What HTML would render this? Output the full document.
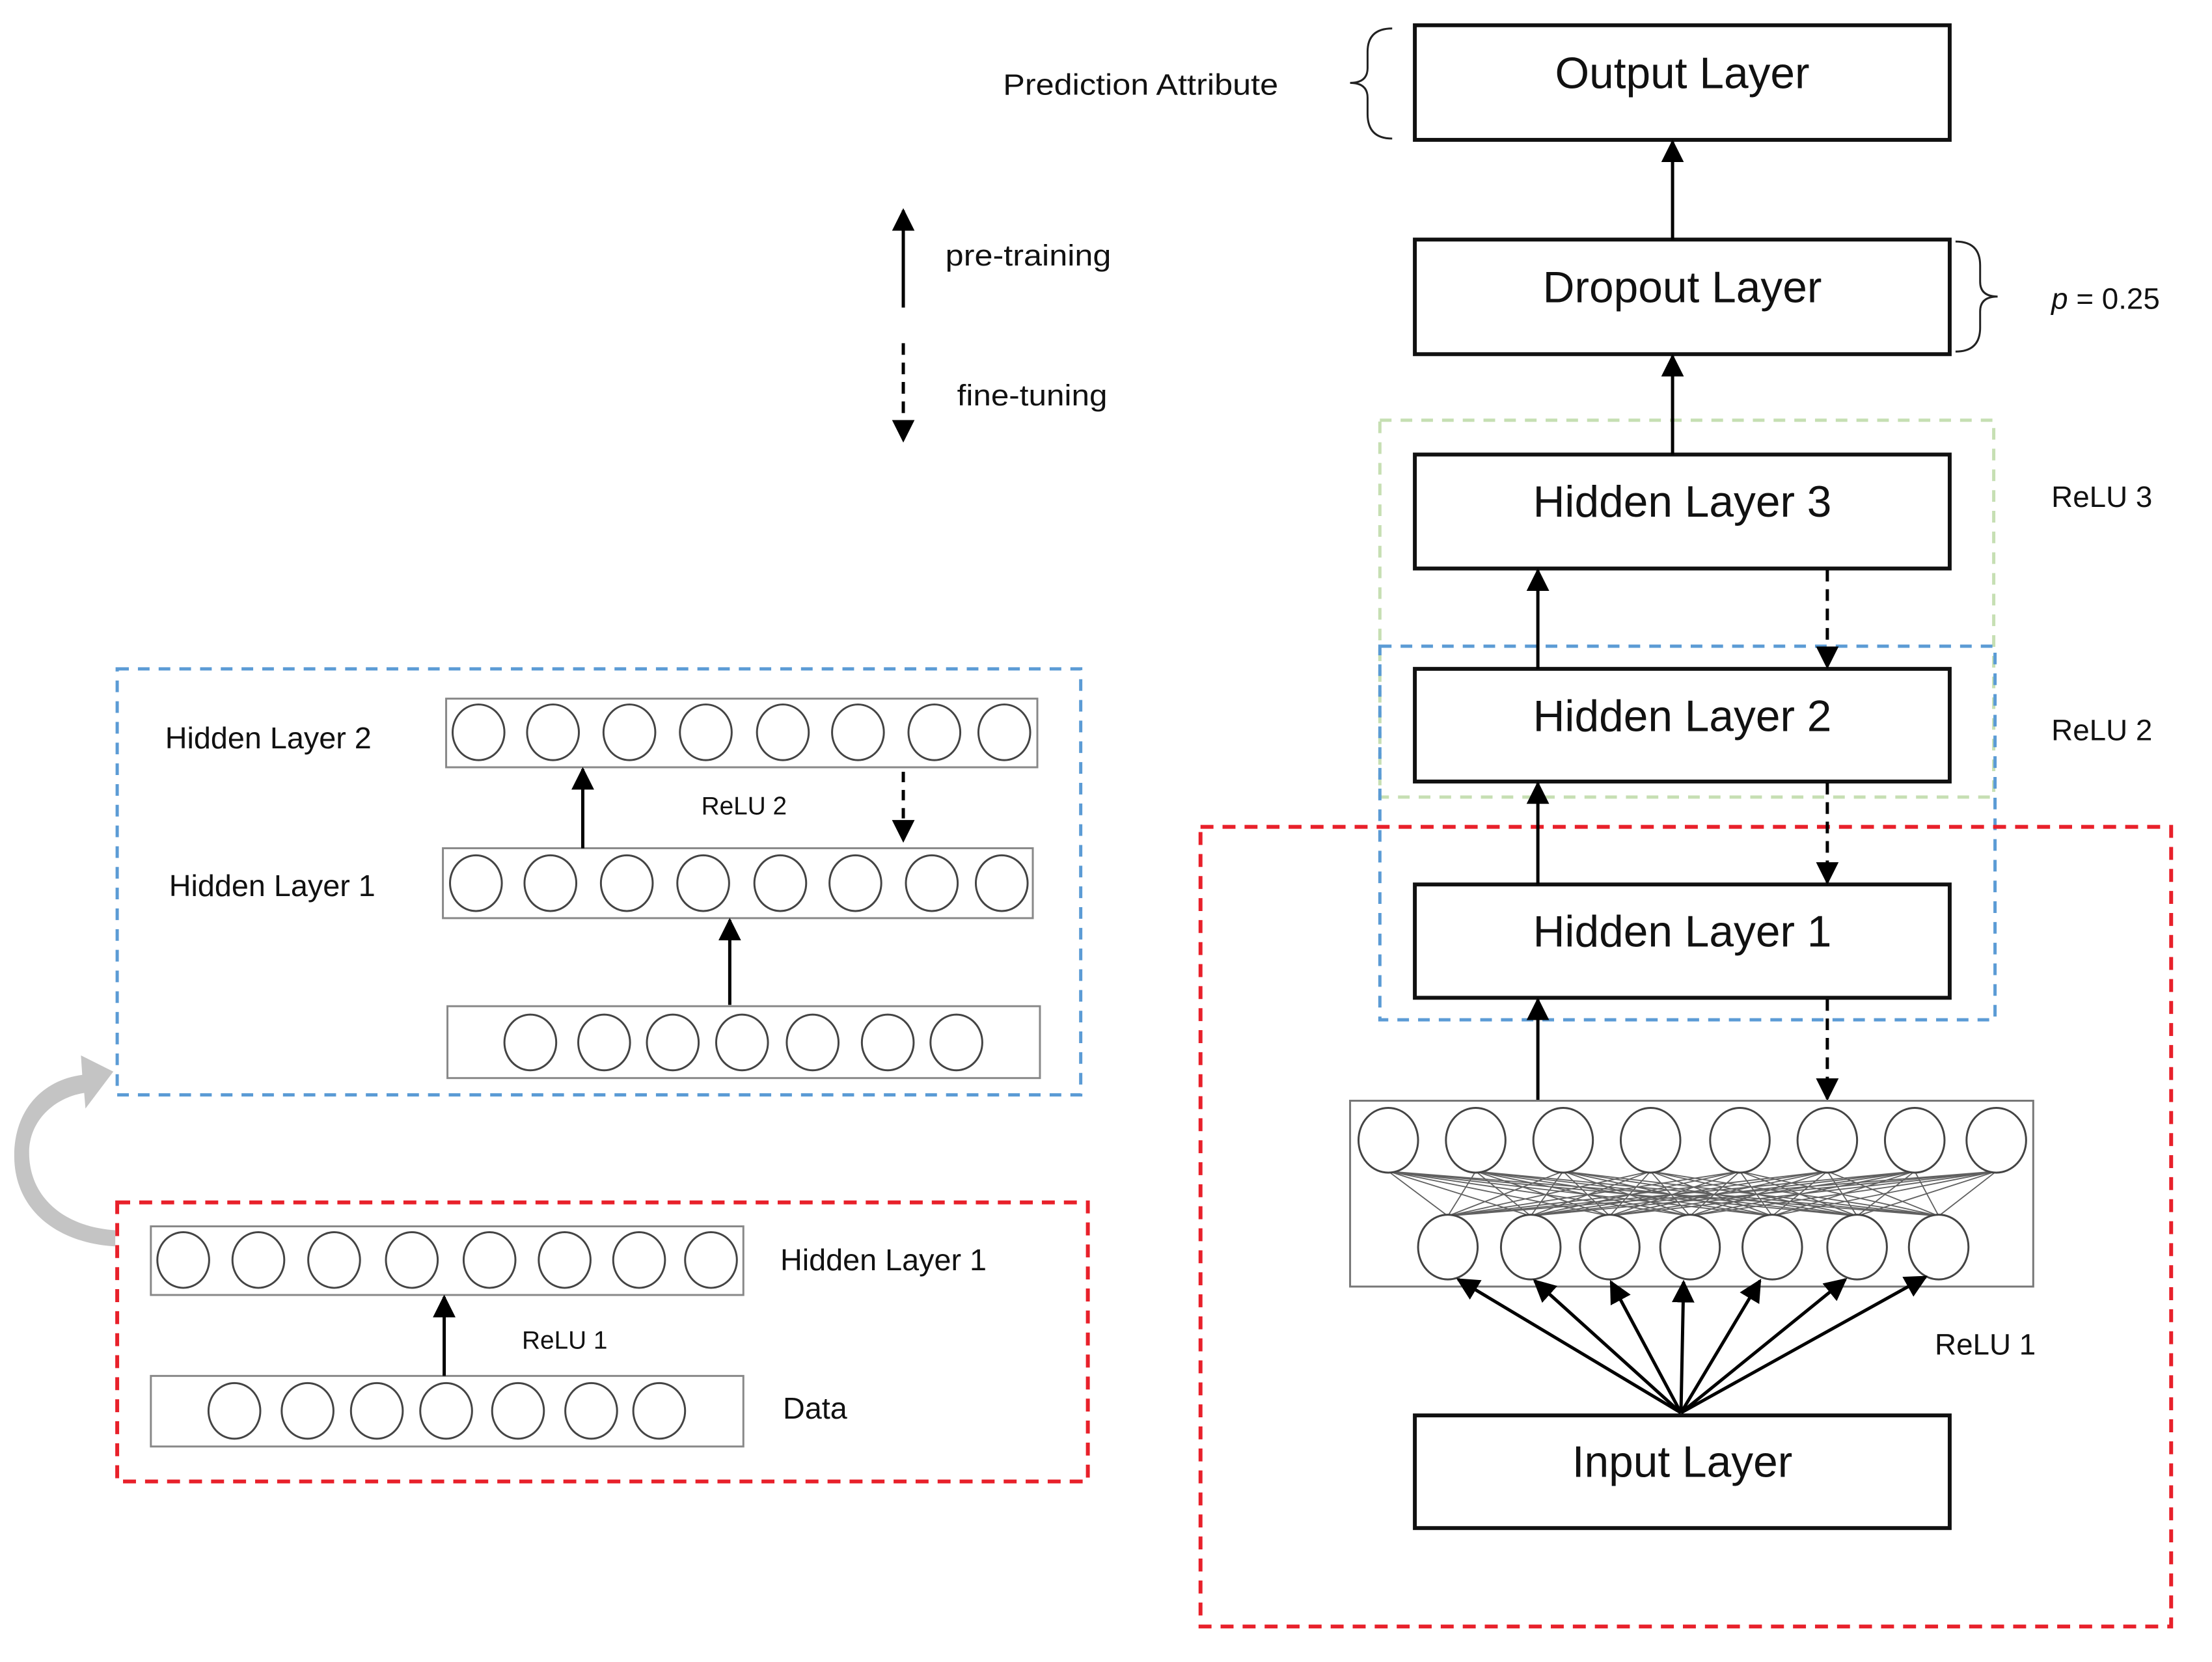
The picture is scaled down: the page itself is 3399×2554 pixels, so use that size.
<!DOCTYPE html>
<html><head><meta charset="utf-8"><style>
html,body{margin:0;padding:0;background:#fff}
svg{display:block}
text{font-family:"Liberation Sans",Arial,sans-serif;fill:#111}
</style></head><body>
<svg width="3399" height="2554" viewBox="0 0 3399 2554" xmlns="http://www.w3.org/2000/svg">
<defs>
<marker id="ah2" viewBox="0 0 10 10" refX="9" refY="5" markerWidth="7" markerHeight="7" orient="auto" markerUnits="strokeWidth"><path d="M0,0 L10,5 L0,10 z" fill="#000"/></marker>
</defs>
<g transform="scale(0.995)">
<rect x="2131" y="649" width="948" height="582" fill="none" stroke="#c6dfb3" stroke-width="5" stroke-dasharray="18,14"/>
<rect x="2131" y="998" width="950" height="577" fill="none" stroke="#5b9bd5" stroke-width="5" stroke-dasharray="18,14"/>
<rect x="1854" y="1277" width="1499" height="1235" fill="none" stroke="#e8202a" stroke-width="6" stroke-dasharray="20,14"/>

<g fill="#fff" stroke="#111" stroke-width="6">
<rect x="2185" y="39" width="826" height="177"/>
<rect x="2185" y="370" width="826" height="177"/>
<rect x="2185" y="702" width="826" height="176"/>
<rect x="2185" y="1033" width="826" height="174"/>
<rect x="2185" y="1366" width="826" height="175"/>
<rect x="2185" y="2186" width="826" height="174"/>
</g>
<g font-size="68" text-anchor="middle">
<text x="2598" y="136">Output Layer</text>
<text x="2598" y="467">Dropout Layer</text>
<text x="2598" y="798">Hidden Layer 3</text>
<text x="2598" y="1129">Hidden Layer 2</text>
<text x="2598" y="1462">Hidden Layer 1</text>
<text x="2598" y="2281">Input Layer</text>
</g>

<g stroke="#000" stroke-width="5" fill="none">
<line x1="2583" y1="370" x2="2583" y2="219" marker-end="url(#ah2)"/>
<line x1="2583" y1="702" x2="2583" y2="550" marker-end="url(#ah2)"/>
<line x1="2375" y1="1033" x2="2375" y2="881" marker-end="url(#ah2)"/>
<line x1="2375" y1="1366" x2="2375" y2="1210" marker-end="url(#ah2)"/>
<line x1="2375" y1="1700" x2="2375" y2="1544" marker-end="url(#ah2)"/>
<line x1="2822" y1="880" x2="2822" y2="1030" stroke-dasharray="18,12" marker-end="url(#ah2)"/>
<line x1="2822" y1="1209" x2="2822" y2="1363" stroke-dasharray="18,12" marker-end="url(#ah2)"/>
<line x1="2822" y1="1543" x2="2822" y2="1697" stroke-dasharray="18,12" marker-end="url(#ah2)"/>
</g>

<rect x="2085" y="1700" width="1055" height="287" fill="#fff" stroke="#777" stroke-width="3"/>
<g stroke="#444" stroke-width="1.8" opacity="0.85">
<path d="M2144 1809L2236 1878M2144 1809L2364 1878M2144 1809L2486 1878M2144 1809L2610 1878M2144 1809L2737 1878M2144 1809L2868 1878M2144 1809L2994 1878
M2279 1809L2236 1878M2279 1809L2364 1878M2279 1809L2486 1878M2279 1809L2610 1878M2279 1809L2737 1878M2279 1809L2868 1878M2279 1809L2994 1878
M2414 1809L2236 1878M2414 1809L2364 1878M2414 1809L2486 1878M2414 1809L2610 1878M2414 1809L2737 1878M2414 1809L2868 1878M2414 1809L2994 1878
M2549 1809L2236 1878M2549 1809L2364 1878M2549 1809L2486 1878M2549 1809L2610 1878M2549 1809L2737 1878M2549 1809L2868 1878M2549 1809L2994 1878
M2687 1809L2236 1878M2687 1809L2364 1878M2687 1809L2486 1878M2687 1809L2610 1878M2687 1809L2737 1878M2687 1809L2868 1878M2687 1809L2994 1878
M2822 1809L2236 1878M2822 1809L2364 1878M2822 1809L2486 1878M2822 1809L2610 1878M2822 1809L2737 1878M2822 1809L2868 1878M2822 1809L2994 1878
M2957 1809L2236 1878M2957 1809L2364 1878M2957 1809L2486 1878M2957 1809L2610 1878M2957 1809L2737 1878M2957 1809L2868 1878M2957 1809L2994 1878
M3083 1809L2236 1878M3083 1809L2364 1878M3083 1809L2486 1878M3083 1809L2610 1878M3083 1809L2737 1878M3083 1809L2868 1878M3083 1809L2994 1878" fill="none"/>
</g>
<g fill="#fff" stroke="#444" stroke-width="3">
<ellipse cx="2144" cy="1761" rx="46" ry="50"/><ellipse cx="2279" cy="1761" rx="46" ry="50"/><ellipse cx="2414" cy="1761" rx="46" ry="50"/><ellipse cx="2549" cy="1761" rx="46" ry="50"/><ellipse cx="2687" cy="1761" rx="46" ry="50"/><ellipse cx="2822" cy="1761" rx="46" ry="50"/><ellipse cx="2957" cy="1761" rx="46" ry="50"/><ellipse cx="3083" cy="1761" rx="46" ry="50"/>
<ellipse cx="2236" cy="1926" rx="46" ry="50"/><ellipse cx="2364" cy="1926" rx="46" ry="50"/><ellipse cx="2486" cy="1926" rx="46" ry="50"/><ellipse cx="2610" cy="1926" rx="46" ry="50"/><ellipse cx="2737" cy="1926" rx="46" ry="50"/><ellipse cx="2868" cy="1926" rx="46" ry="50"/><ellipse cx="2994" cy="1926" rx="46" ry="50"/>
</g>
<g stroke="#000" stroke-width="5" fill="none">
<line x1="2596" y1="2182" x2="2252" y2="1976" marker-end="url(#ah2)"/>
<line x1="2596" y1="2182" x2="2370" y2="1978" marker-end="url(#ah2)"/>
<line x1="2596" y1="2182" x2="2488" y2="1980" marker-end="url(#ah2)"/>
<line x1="2596" y1="2182" x2="2600" y2="1980" marker-end="url(#ah2)"/>
<line x1="2596" y1="2182" x2="2718" y2="1978" marker-end="url(#ah2)"/>
<line x1="2596" y1="2182" x2="2850" y2="1976" marker-end="url(#ah2)"/>
<line x1="2596" y1="2182" x2="2974" y2="1972" marker-end="url(#ah2)"/>
</g>

<g font-size="46">
<text x="3168" y="783">ReLU 3</text>
<text x="3168" y="1143">ReLU 2</text>
<text x="2988" y="2092">ReLU 1</text>
<text x="3168" y="477"><tspan font-style="italic">p</tspan> = 0.25</text>
<text x="1549" y="146" textLength="425" lengthAdjust="spacingAndGlyphs">Prediction Attribute</text>
<text x="1460" y="410" textLength="256" lengthAdjust="spacingAndGlyphs">pre-training</text>
<text x="1478" y="626" textLength="232" lengthAdjust="spacingAndGlyphs">fine-tuning</text>
</g>
<path d="M2150 44 Q2112 44 2112 80 L2112 105 Q2112 128 2085 128 Q2112 128 2112 151 L2112 176 Q2112 214 2150 214" fill="none" stroke="#222" stroke-width="3"/>
<path d="M3020 373 Q3058 373 3058 410 L3058 435 Q3058 458 3085 458 Q3058 458 3058 481 L3058 506 Q3058 543 3020 543" fill="none" stroke="#222" stroke-width="3"/>

<g stroke="#000" stroke-width="5" fill="none">
<line x1="1395" y1="475" x2="1395" y2="325" marker-end="url(#ah2)"/>
<line x1="1395" y1="530" x2="1395" y2="680" stroke-dasharray="18,12" marker-end="url(#ah2)"/>
</g>

<rect x="181" y="1033" width="1488" height="658" fill="none" stroke="#5b9bd5" stroke-width="5" stroke-dasharray="18,14"/>
<g fill="#fff" stroke="#888" stroke-width="3">
<rect x="689" y="1079" width="913" height="106"/>
<rect x="684" y="1310" width="911" height="108"/>
<rect x="691" y="1554" width="915" height="111"/>
</g>
<g fill="#fff" stroke="#444" stroke-width="3">
<ellipse cx="739" cy="1131" rx="40" ry="43"/><ellipse cx="854" cy="1131" rx="40" ry="43"/><ellipse cx="972" cy="1131" rx="40" ry="43"/><ellipse cx="1090" cy="1131" rx="40" ry="43"/><ellipse cx="1209" cy="1131" rx="40" ry="43"/><ellipse cx="1325" cy="1131" rx="40" ry="43"/><ellipse cx="1443" cy="1131" rx="40" ry="43"/><ellipse cx="1551" cy="1131" rx="40" ry="43"/>
<ellipse cx="735" cy="1364" rx="40" ry="43"/><ellipse cx="850" cy="1364" rx="40" ry="43"/><ellipse cx="968" cy="1364" rx="40" ry="43"/><ellipse cx="1086" cy="1364" rx="40" ry="43"/><ellipse cx="1205" cy="1364" rx="40" ry="43"/><ellipse cx="1321" cy="1364" rx="40" ry="43"/><ellipse cx="1439" cy="1364" rx="40" ry="43"/><ellipse cx="1547" cy="1364" rx="40" ry="43"/>
<ellipse cx="819" cy="1610" rx="40" ry="43"/><ellipse cx="933" cy="1610" rx="40" ry="43"/><ellipse cx="1039" cy="1610" rx="40" ry="43"/><ellipse cx="1146" cy="1610" rx="40" ry="43"/><ellipse cx="1255" cy="1610" rx="40" ry="43"/><ellipse cx="1371" cy="1610" rx="40" ry="43"/><ellipse cx="1477" cy="1610" rx="40" ry="43"/>
</g>
<g stroke="#000" stroke-width="5" fill="none">
<line x1="900" y1="1310" x2="900" y2="1188" marker-end="url(#ah2)"/>
<line x1="1127" y1="1552" x2="1127" y2="1421" marker-end="url(#ah2)"/>
<line x1="1395" y1="1192" x2="1395" y2="1298" stroke-dasharray="16,12" marker-end="url(#ah2)"/>
</g>
<g font-size="47">
<text x="255" y="1156">Hidden Layer 2</text>
<text x="261" y="1384">Hidden Layer 1</text>
</g>
<text x="1083" y="1258" font-size="39">ReLU 2</text>

<rect x="181" y="1857" width="1499" height="431" fill="none" stroke="#e8202a" stroke-width="6" stroke-dasharray="20,14"/>
<g fill="#fff" stroke="#888" stroke-width="3">
<rect x="233" y="1894" width="915" height="106"/>
<rect x="233" y="2125" width="915" height="109"/>
</g>
<g fill="#fff" stroke="#444" stroke-width="3">
<ellipse cx="283" cy="1946" rx="40" ry="43"/><ellipse cx="399" cy="1946" rx="40" ry="43"/><ellipse cx="516" cy="1946" rx="40" ry="43"/><ellipse cx="636" cy="1946" rx="40" ry="43"/><ellipse cx="756" cy="1946" rx="40" ry="43"/><ellipse cx="872" cy="1946" rx="40" ry="43"/><ellipse cx="987" cy="1946" rx="40" ry="43"/><ellipse cx="1098" cy="1946" rx="40" ry="43"/>
<ellipse cx="362" cy="2179" rx="40" ry="43"/><ellipse cx="475" cy="2179" rx="40" ry="43"/><ellipse cx="582" cy="2179" rx="40" ry="43"/><ellipse cx="689" cy="2179" rx="40" ry="43"/><ellipse cx="800" cy="2179" rx="40" ry="43"/><ellipse cx="913" cy="2179" rx="40" ry="43"/><ellipse cx="1018" cy="2179" rx="40" ry="43"/>
</g>
<line x1="686" y1="2125" x2="686" y2="2003" stroke="#000" stroke-width="5" marker-end="url(#ah2)"/>
<g font-size="47">
<text x="1205" y="1962">Hidden Layer 1</text>
<text x="1209" y="2191">Data</text>
</g>
<text x="806" y="2083" font-size="39">ReLU 1</text>

<path d="M178 1900 C100 1895 45 1850 45 1780 C45 1730 85 1695 130 1688 L132 1712 L175 1655 L125 1630 L127 1660 C65 1668 22 1715 22 1785 C22 1870 90 1920 178 1925 Z" fill="#c4c4c4"/>
</g>
</svg>
</body></html>
